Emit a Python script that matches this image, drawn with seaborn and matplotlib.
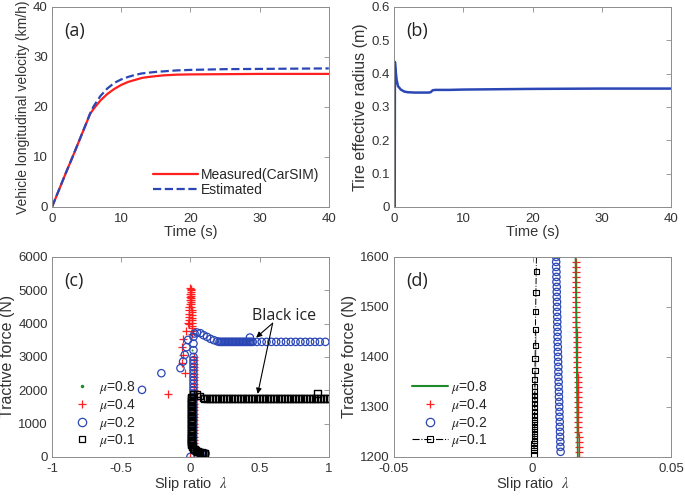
import numpy as np
import matplotlib
matplotlib.use("Agg")
import matplotlib.pyplot as plt
from matplotlib.lines import Line2D
import seaborn as sns

# ---------------- data ----------------
# (a) vehicle longitudinal velocity
t_meas = [0, 1, 2, 3, 4, 5, 5.5, 6, 7, 8, 9, 10, 11, 12, 13, 14, 15, 16, 18, 20, 25, 30, 35, 40]
v_meas = [0, 3.4, 6.8, 10.1, 13.5, 16.9, 18.6, 19.6, 21.3, 22.6, 23.6, 24.4, 25.0, 25.4, 25.8, 26.0,
          26.15, 26.3, 26.45, 26.5, 26.55, 26.6, 26.6, 26.6]
t_est = [0, 1, 2, 3, 4, 5, 5.5, 6, 7, 8, 9, 10, 11, 12, 13, 14, 15, 16, 18, 20, 25, 30, 35, 40]
v_est = [0, 3.4, 6.8, 10.1, 13.5, 16.9, 18.7, 20.1, 22.2, 23.7, 24.8, 25.5, 26.0, 26.4, 26.7, 26.85,
         27.0, 27.1, 27.3, 27.4, 27.55, 27.6, 27.65, 27.7]

# (b) tire effective radius
t_rad = [0.12, 0.15, 0.25, 0.4, 0.6, 1.0, 1.5, 2, 3, 4, 5, 5.3, 5.6, 6, 8, 10, 15, 20, 30, 40]
r_eff = [0, 0.435, 0.41, 0.38, 0.362, 0.352, 0.346, 0.344, 0.343, 0.343, 0.343, 0.344, 0.350,
         0.351, 0.351, 0.352, 0.353, 0.354, 0.355, 0.355]

# (c) tractive force vs slip ratio
lam_08 = [0.016, 0.016, 0.015, 0.015, 0.014, 0.012, 0.010, 0.008, 0.006]
fx_08 = [200, 800, 1400, 2000, 2600, 3200, 3800, 4400, 5000]

lam_04 = [-0.16, -0.042, -0.058, -0.054, -0.058, -0.054, -0.03, -0.02,
          0.0, 0.026, 0.027, 0.026, 0.027, 0.026, 0.027, 0.026, 0.027, 0.026, 0.027,
          0.026, 0.027, 0.026, 0.027, 0.026, 0.027, 0.026, 0.027, 0.026, 0.027,
          0.026, 0.027, 0.026, 0.027, 0.026, 0.027, 0.026, 0.027, 0.026, 0.024,
          0.014, 0.013, 0.012, 0.012, 0.011, 0.010, 0.010, 0.009, 0.008, 0.008, 0.007,
          0.006, 0.006, 0.005, 0.004, 0.004, 0.003, 0.002, 0.002, 0.001, 0.0,
          -0.012, -0.011, -0.010, -0.009, -0.008, -0.007, -0.006, -0.005, -0.004, -0.003]
fx_04 = [1890, 2510, 2810, 3050, 3290, 3530, 3790, 4030,
         0, 100, 200, 300, 400, 500, 600, 700, 800, 900, 1000,
         1100, 1200, 1300, 1400, 1500, 1600, 1700, 1800, 1900, 2000,
         2100, 2200, 2300, 2400, 2500, 2600, 2700, 2800, 2900, 3000,
         3700, 3780, 3860, 3940, 4020, 4100, 4180, 4260, 4340, 4420, 4500,
         4580, 4650, 4720, 4780, 4840, 4900, 4950, 5000, 5040, 5070,
         4000, 4100, 4200, 4300, 4400, 4500, 4600, 4700, 4800, 4900]

lam_02 = [-0.35, -0.21, -0.072, -0.053, -0.041, -0.029, -0.017, 0.0,
          0.020, 0.020, 0.020, 0.021, 0.021, 0.021, 0.021, 0.022, 0.022, 0.022, 0.022,
          0.022, 0.022, 0.022, 0.022, 0.022, 0.022, 0.022, 0.022, 0.022, 0.022, 0.022,
          0.022, 0.022, 0.022, 0.022, 0.022, 0.022, 0.022, 0.022, 0.022,
          0.03, 0.048, 0.072, 0.095, 0.12, 0.145, 0.17, 0.195,
          0.21, 0.22, 0.23, 0.24, 0.25, 0.26, 0.27, 0.28, 0.29, 0.30, 0.31, 0.32, 0.33,
          0.34, 0.35, 0.36, 0.37, 0.38, 0.39, 0.40, 0.41, 0.42, 0.43, 0.44, 0.45,
          0.48, 0.515, 0.55, 0.585, 0.62, 0.655, 0.69, 0.725, 0.76, 0.795, 0.83, 0.865,
          0.90, 0.935, 0.975, 0.43,
          0.03, 0.045, 0.06, 0.08, 0.10, 0.11]
fx_02 = [2010, 2510, 2660, 2860, 3060, 3290, 3510, 0,
         300, 400, 500, 600, 700, 800, 900, 1000, 1100, 1200, 1300,
         1400, 1500, 1600, 1700, 1800, 1900, 2000, 2100, 2200, 2300, 2400,
         2500, 2600, 2700, 2800, 2900, 3000, 3200, 3400, 3600,
         3700, 3730, 3710, 3650, 3600, 3540, 3500, 3465,
         3450, 3450, 3450, 3450, 3450, 3450, 3450, 3450, 3450, 3450, 3450, 3450, 3450,
         3450, 3450, 3450, 3450, 3450, 3450, 3450, 3450, 3450, 3450, 3450, 3450,
         3450, 3450, 3450, 3450, 3450, 3450, 3450, 3450, 3450, 3450, 3450, 3450,
         3450, 3450, 3450, 3580,
         200, 150, 120, 110, 100, 100]

lam_01 = [0.008, 0.008, 0.008, 0.008, 0.008, 0.008, 0.008, 0.008, 0.008, 0.008,
          0.008, 0.008, 0.008, 0.008, 0.008, 0.008, 0.008, 0.008, 0.008, 0.008,
          0.008, 0.008, 0.008, 0.008, 0.008, 0.008, 0.008, 0.008, 0.008, 0.008,
          0.02, 0.048, 0.07, 0.09,
          0.10, 0.12, 0.14, 0.16, 0.18, 0.20, 0.22, 0.24, 0.26, 0.28, 0.30, 0.32, 0.34,
          0.36, 0.38, 0.40, 0.42, 0.44, 0.46, 0.48, 0.50, 0.52, 0.54, 0.56, 0.58, 0.60,
          0.62, 0.64, 0.66, 0.68, 0.70, 0.72, 0.74, 0.76, 0.78, 0.80, 0.82, 0.84, 0.86,
          0.88, 0.90, 0.92, 0.94, 0.96, 0.98, 1.00, 0.92,
          0.004, 0.008, 0.012, 0.016, 0.02, 0.03, 0.04, 0.05, 0.06, 0.07, 0.08, 0.09, 0.10]
fx_01 = [350, 400, 450, 500, 550, 600, 650, 700, 750, 800,
         850, 900, 950, 1000, 1050, 1100, 1150, 1200, 1250, 1300,
         1350, 1400, 1450, 1500, 1550, 1600, 1650, 1700, 1750, 1800,
         1870, 1886, 1825, 1770,
         1750, 1750, 1750, 1750, 1750, 1750, 1750, 1750, 1750, 1750, 1750, 1750, 1750,
         1750, 1750, 1750, 1750, 1750, 1750, 1750, 1750, 1750, 1750, 1750, 1750, 1750,
         1750, 1750, 1750, 1750, 1750, 1750, 1750, 1750, 1750, 1750, 1750, 1750, 1750,
         1750, 1750, 1750, 1750, 1750, 1750, 1750, 1906,
         600, 450, 350, 300, 250, 220, 190, 165, 150, 135, 125, 115, 105]

# (d) zoom on 1200-1600 N
lam_d08 = [0.0163, 0.0159, 0.0155]
fx_d08 = [1200, 1400, 1600]

fx_d04 = [1200, 1210, 1220, 1230, 1240, 1250, 1260, 1270, 1280, 1290, 1300, 1310, 1320, 1330,
          1340, 1350, 1360, 1370, 1380, 1390, 1400, 1410, 1420, 1430, 1440, 1450, 1460, 1470,
          1480, 1490, 1500, 1510, 1520, 1530, 1540, 1550, 1560, 1570, 1580, 1590]
lam_d04 = [0.0167, 0.0167, 0.0166, 0.0166, 0.0166, 0.0165, 0.0165, 0.0165, 0.0164, 0.0164,
           0.0164, 0.0163, 0.0163, 0.0163, 0.0162, 0.0162, 0.0162, 0.0161, 0.0161, 0.0161,
           0.0160, 0.0160, 0.0160, 0.0159, 0.0159, 0.0159, 0.0158, 0.0158, 0.0158, 0.0157,
           0.0157, 0.0157, 0.0156, 0.0156, 0.0156, 0.0156, 0.0155, 0.0155, 0.0155, 0.0155]

fx_d02 = [1210, 1220, 1230, 1240, 1250, 1260, 1270, 1280, 1290, 1300, 1310, 1320, 1330, 1340,
          1350, 1360, 1370, 1380, 1390, 1400, 1410, 1420, 1430, 1440, 1450, 1460, 1470, 1480,
          1490, 1500, 1510, 1520, 1530, 1540, 1550, 1560, 1570, 1580, 1590, 1600]
lam_d02 = [0.0101, 0.0100, 0.0100, 0.0099, 0.0099, 0.0098, 0.0098, 0.0097, 0.0097, 0.0096,
           0.0096, 0.0095, 0.0095, 0.0094, 0.0094, 0.0093, 0.0093, 0.0093, 0.0092, 0.0092,
           0.0091, 0.0091, 0.0090, 0.0090, 0.0090, 0.0089, 0.0089, 0.0089, 0.0088, 0.0088,
           0.0088, 0.0087, 0.0087, 0.0087, 0.0086, 0.0086, 0.0086, 0.0085, 0.0085, 0.0085]

fx_d01 = [1205, 1212, 1219, 1226, 1233, 1240, 1247, 1254, 1261, 1268, 1275, 1282, 1290, 1298,
          1306, 1314, 1322, 1330, 1340, 1355, 1373, 1397, 1423, 1454, 1490, 1529, 1571]
lam_d01 = [0.0005, 0.0005, 0.0005, 0.0005, 0.0006, 0.0006, 0.0006, 0.0006, 0.0006, 0.0006,
           0.0007, 0.0007, 0.0007, 0.0007, 0.0007, 0.0007, 0.0008, 0.0008, 0.0008, 0.0008,
           0.0009, 0.0009, 0.0010, 0.0010, 0.0011, 0.0012, 0.0013]
fx_d01_line = fx_d01 + [1600]
lam_d01_line = lam_d01 + [0.0014]

# ---------------- style ----------------
sns.set_style("white")
plt.rcParams["font.family"] = ["Liberation Sans", "DejaVu Sans"]
plt.rcParams["mathtext.fontset"] = "stix"

RED = "#ff1f1f"
BLUE = "#2b47b5"
GREEN = "#1f8a2a"
SPINE = "#8c8c8c"
TXT = "#333333"
TAG_FONT = ["Open Sans", "DejaVu Sans"]


def style_axes(ax, xlabel, ylabel, xlim, ylim, xticks, yticks, label_size=11.5):
    ax.set_xlim(xlim)
    ax.set_ylim(ylim)
    ax.set_xticks(xticks)
    ax.set_yticks(yticks)
    ax.tick_params(direction="in", top=True, right=True, length=3.5, width=0.6,
                   color=SPINE, labelsize=9.5, labelcolor=TXT, pad=3)
    ax.tick_params(axis="x", pad=4.5)
    for s in ax.spines.values():
        s.set_color(SPINE)
        s.set_linewidth(0.7)
    ax.set_xlabel(xlabel, fontsize=10.5, color=TXT, labelpad=0)
    ax.set_ylabel(ylabel, fontsize=label_size, color=TXT, labelpad=2)


def tag(ax, s):
    ax.text(0.045, 0.88, s, transform=ax.transAxes, va="center", family=TAG_FONT,
            fontsize=13, color="#222222")


fig = plt.figure(figsize=(6.85, 4.96), dpi=100)
ax_a = fig.add_axes([0.076, 0.583, 0.404, 0.403])
ax_b = fig.add_axes([0.575, 0.583, 0.405, 0.403])
ax_c = fig.add_axes([0.076, 0.079, 0.404, 0.403])
ax_d = fig.add_axes([0.575, 0.079, 0.405, 0.403])

# (a)
sns.lineplot(x=t_meas, y=v_meas, ax=ax_a, color=RED, lw=1.6, label="Measured(CarSIM)")
sns.lineplot(x=t_est, y=v_est, ax=ax_a, color=BLUE, lw=1.6, ls="--", label="Estimated")
style_axes(ax_a, "Time (s)", "Vehicle longitudinal velocity (km/h)", (0, 40), (0, 40),
           [0, 10, 20, 30, 40], [0, 10, 20, 30, 40], label_size=10)
ax_a.legend(loc="lower right", frameon=False, fontsize=10, handlelength=3.2,
            borderaxespad=0.3, labelspacing=0.1, handletextpad=0.2)
tag(ax_a, "(a)")

# (b)
sns.lineplot(x=t_rad, y=r_eff, ax=ax_b, color=BLUE, lw=1.8, sort=False)
style_axes(ax_b, "Time (s)", "Tire effective radius (m)", (0, 40), (0, 0.6),
           [0, 10, 20, 30, 40], [0, 0.1, 0.2, 0.3, 0.4, 0.5, 0.6])
ax_b.set_yticklabels(["0", "0.1", "0.2", "0.3", "0.4", "0.5", "0.6"])
tag(ax_b, "(b)")

# (c)
sns.scatterplot(x=lam_08, y=fx_08, ax=ax_c, marker=".", color=GREEN, s=8, linewidth=0)
sns.scatterplot(x=lam_04, y=fx_04, ax=ax_c, marker="+", color=RED, s=30, linewidth=0.9)
sns.scatterplot(x=lam_02, y=fx_02, ax=ax_c, marker="o", facecolor="none", edgecolor=BLUE,
                s=28, linewidth=0.9)
sns.scatterplot(x=lam_01, y=fx_01, ax=ax_c, marker="s", facecolor="none", edgecolor="black",
                s=22, linewidth=1.0)
style_axes(ax_c, r"Slip ratio  $\lambda$", "Tractive force (N)", (-1, 1), (0, 6000),
           [-1, -0.5, 0, 0.5, 1], [0, 1000, 2000, 3000, 4000, 5000, 6000])
ax_c.set_xticklabels(["-1", "-0.5", "0", "0.5", "1"])
tag(ax_c, "(c)")
ax_c.text(0.68, 4230, "Black ice", ha="center", va="center", family=TAG_FONT, fontsize=11.5,
          color="#222222")
for tip in [(0.475, 3580), (0.486, 1890)]:
    ax_c.annotate("", xy=tip, xytext=(0.594, 4010),
                  arrowprops=dict(arrowstyle="-|>", color="black", lw=0.8,
                                  mutation_scale=8, shrinkA=0, shrinkB=0))
h_c = [Line2D([], [], ls="none", marker=".", color=GREEN, ms=3),
       Line2D([], [], ls="none", marker="+", color=RED, ms=6, mew=0.9),
       Line2D([], [], ls="none", marker="o", mfc="none", mec=BLUE, ms=6, mew=0.9),
       Line2D([], [], ls="none", marker="s", mfc="none", mec="black", ms=5, mew=0.9)]
ax_c.legend(h_c, [r"$\mu$=0.8", r"$\mu$=0.4", r"$\mu$=0.2", r"$\mu$=0.1"], loc="lower left",
            bbox_to_anchor=(0.05, 0.01), frameon=False, fontsize=10, handlelength=1.5,
            labelspacing=0.05, handletextpad=0.5, borderaxespad=0)

# (d)
sns.lineplot(x=lam_d08, y=fx_d08, ax=ax_d, color=GREEN, lw=1.3, sort=False)
sns.scatterplot(x=lam_d04, y=fx_d04, ax=ax_d, marker="+", color=RED, s=30, linewidth=0.9)
sns.scatterplot(x=lam_d02, y=fx_d02, ax=ax_d, marker="o", facecolor="none", edgecolor=BLUE,
                s=28, linewidth=0.9)
sns.lineplot(x=lam_d01_line, y=fx_d01_line, ax=ax_d, color="black", lw=0.7, ls="-.", sort=False)
sns.scatterplot(x=lam_d01, y=fx_d01, ax=ax_d, marker="s", facecolor="none", edgecolor="black",
                s=14, linewidth=0.8)
style_axes(ax_d, r"Slip ratio  $\lambda$", "Tractive force (N)", (-0.05, 0.05), (1200, 1600),
           [-0.05, 0, 0.05], [1200, 1300, 1400, 1500, 1600])
ax_d.set_xticklabels(["-0.05", "0", "0.05"])
tag(ax_d, "(d)")
h_d = [Line2D([], [], color=GREEN, lw=1.5),
       Line2D([], [], ls="none", marker="+", color=RED, ms=6, mew=0.9),
       Line2D([], [], ls="none", marker="o", mfc="none", mec=BLUE, ms=6, mew=0.9),
       Line2D([], [], ls="-.", lw=0.8, marker="s", mfc="none", mec="black", color="black", ms=4, mew=0.8)]
ax_d.legend(h_d, [r"$\mu$=0.8", r"$\mu$=0.4", r"$\mu$=0.2", r"$\mu$=0.1"], loc="lower left",
            bbox_to_anchor=(0.045, 0.01), frameon=False, fontsize=10, handlelength=2.6,
            labelspacing=0.05, handletextpad=0.2, borderaxespad=0)

fig.savefig("out.png", dpi=100)
